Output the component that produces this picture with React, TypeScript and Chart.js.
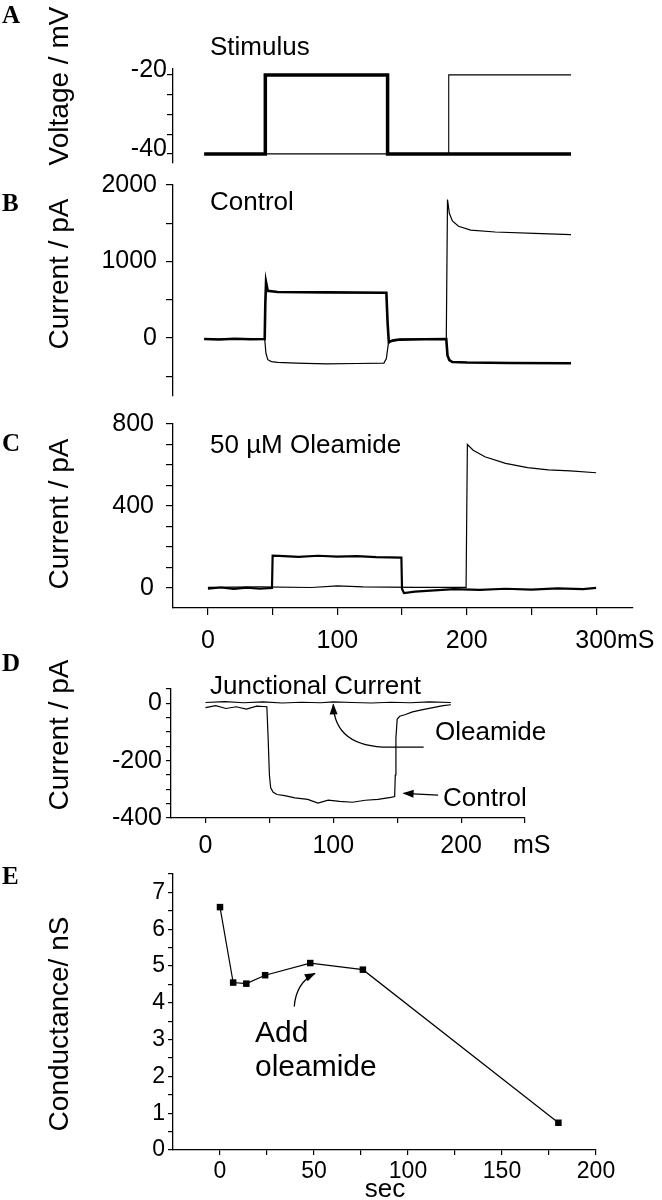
import React, { useEffect, useRef } from 'react';
import { Chart, registerables } from 'chart.js';

Chart.register(...registerables);

const FONT = "'Liberation Sans', Arial, Helvetica, sans-serif";
const SERIF = "'Liberation Serif', 'Times New Roman', serif";

// ---------- Panel A: stimulus ----------
const aTimeThin = [0, 200, 200, 300];
const aVoltThin = [-40, -40, -20, -20];
const aTimeThick = [0, 50, 50, 150, 150, 300];
const aVoltThick = [-40, -40, -20, -20, -40, -40];
const aVoltTicks = [-40, -35, -30, -25, -20];
const aVoltLabels = [-40, -20];

// ---------- Panel B: control currents ----------
const bTimeCell1 = [0, 12, 25, 38, 49.5, 50, 50.6, 52, 60, 100, 149, 150, 151, 153, 160, 180, 198, 199, 200.5, 203, 215, 250, 300];
const bCurCell1 = [-15, -20, -12, -18, -15, 450, 730, 615, 600, 595, 590, 200, -55, -40, -22, -18, -15, -230, -290, -315, -322, -328, -332];
const bTimeCell2 = [0, 49.5, 50.5, 52, 55, 60, 75, 100, 125, 147, 149, 150.5, 152, 156, 180, 198, 199, 200.5, 203, 208, 218, 238, 270, 300];
const bCurCell2 = [-15, -15, -200, -285, -310, -320, -330, -340, -335, -330, -270, -90, -40, -20, -15, -15, 1810, 1630, 1530, 1460, 1410, 1385, 1368, 1350];
const bCurTicks = [-500, 0, 500, 1000, 1500, 2000];
const bCurLabels = [0, 1000, 2000];

// ---------- Panel C: 50 uM oleamide ----------
const cTimeCell1 = [0, 10, 20, 30, 40, 49.5, 50, 55, 70, 85, 100, 115, 130, 149.5, 150, 151.5, 160, 175, 190, 210, 230, 250, 270, 290, 300];
const cCurCell1 = [-3, 2, -5, 1, -4, 0, 158, 156, 152, 157, 153, 155, 150, 148, -5, -25, -18, -12, -6, -10, -4, -8, -2, -6, 0];
const cTimeCell2 = [0, 40, 80, 100, 120, 160, 199.5, 200.5, 205, 214, 230, 247, 263, 280, 300];
const cCurCell2 = [3, 5, 2, 10, 5, 3, 3, 700, 672, 640, 608, 587, 576, 571, 562];
const cCurTicks = [0, 100, 200, 300, 400, 500, 600, 700, 800];
const cCurLabels = [0, 400, 800];
const cTimeTicks = [0, 50, 100, 150, 200, 250, 300];
const cTimeLabels = [0, 100, 200, 300];

// ---------- Panel D: junctional current ----------
const dTimeOle = [0, 15, 30, 45, 60, 75, 90, 100, 115, 130, 145, 160, 175, 192];
const dCurOle = [3, 6, 2, 5, 1, 4, 2, 5, 3, 1, 4, 2, 5, 3];
const dTimeCtl = [0, 8, 16, 24, 32, 40, 48, 49, 50, 51, 53, 56, 62, 70, 80, 88, 96, 105, 115, 125, 135, 145, 148, 148.5, 149, 150, 152, 156, 162, 170, 178, 186, 192];
const dCurCtl = [-15, -8, -18, -12, -20, -10, -12, -120, -250, -295, -310, -318, -322, -330, -335, -348, -338, -342, -345, -338, -335, -328, -325, -250, -120, -55, -45, -40, -30, -22, -15, -8, -5];
const dCurTicks = [-400, -350, -300, -250, -200, -150, -100, -50, 0, 50];
const dCurLabels = [-400, -200, 0];
const dTimeTicks = [0, 50, 100, 150, 200, 250];
const dTimeLabels = [0, 100, 200];

// ---------- Panel E: conductance ----------
const eTime = [0, 7, 14, 24, 48, 76, 180];
const eCond = [6.6, 4.55, 4.52, 4.75, 5.08, 4.9, 0.74];
const eCondTicks = [0, 0.5, 1, 1.5, 2, 2.5, 3, 3.5, 4, 4.5, 5, 5.5, 6, 6.5, 7, 7.5];
const eCondLabels = [0, 1, 2, 3, 4, 5, 6, 7];
const eTimeTicks = [0, 25, 50, 75, 100, 125, 150, 175, 200];
const eTimeLabels = [0, 50, 100, 150, 200];

// annotation arrows, in data coordinates of their panel
const dArrowOleamide = [[170.7, -153], [144, -153], [101, -153], [100, -4]];
const dArrowControl = [[182, -320], [155, -314]];
const eArrowAdd = [[39.5, 3.9], [39.5, 3.9], [40.5, 4.55], [50.5, 4.8]];

type TextItem = {
  text: string; x: number; y: number; size: number;
  align?: CanvasTextAlign; baseline?: CanvasTextBaseline;
  rotate?: boolean; serif?: boolean; bold?: boolean;
  anchorX?: number; anchorText?: string; anchorSize?: number;
};
type ArrowItem = { pts: number[][]; curve?: boolean };

const pts = (xs: number[], ys: number[]) => xs.map((x, i) => ({ x, y: ys[i] }));

const line = (xs: number[], ys: number[], w: number) => ({
  data: pts(xs, ys),
  borderColor: '#000',
  borderWidth: w,
  pointRadius: 0,
  tension: 0,
  fill: false,
  clip: false,
  borderJoinStyle: 'miter',
  borderCapStyle: 'butt',
});

function yAxis(min: number, max: number, ticks: number[], labels: number[], width: number, tl: number, pad: number, labelOffset = 0, size = 25) {
  return {
    type: 'linear', position: 'left', min, max,
    afterBuildTicks: (s: any) => { s.ticks = ticks.map((v) => ({ value: v })); },
    afterFit: (s: any) => { s.width = width; },
    ticks: {
      autoSkip: false, padding: pad, labelOffset, color: '#000',
      font: { family: FONT, size },
      callback: (v: any) => (labels.includes(Number(v)) ? String(v) : ''),
    },
    grid: { display: true, drawOnChartArea: false, drawTicks: true, tickLength: tl, color: '#000', lineWidth: 1.2 },
    border: { display: true, color: '#000', width: 1.3 },
  };
}

function xAxis(min: number, max: number, ticks: number[], labels: number[], height: number, tl: number, pad: number, size = 25) {
  return {
    type: 'linear', position: 'bottom', min, max,
    afterBuildTicks: (s: any) => { s.ticks = ticks.map((v) => ({ value: v })); },
    afterFit: (s: any) => { s.height = height; },
    ticks: {
      autoSkip: false, padding: pad, maxRotation: 0, color: '#000',
      font: { family: FONT, size },
      callback: (v: any) => (labels.includes(Number(v)) ? String(v) : ''),
    },
    grid: { display: true, drawOnChartArea: false, drawTicks: true, tickLength: tl, color: '#000', lineWidth: 1.2 },
    border: { display: true, color: '#000', width: 1.3 },
  };
}

function annotate(top: number, texts: TextItem[], arrows: ArrowItem[]) {
  return {
    id: 'annotate',
    afterDraw(chart: any) {
      const ctx = chart.ctx as CanvasRenderingContext2D;
      const xs = chart.scales.x;
      const ys = chart.scales.y;
      ctx.save();
      ctx.fillStyle = '#000';
      ctx.strokeStyle = '#000';
      for (const t of texts) {
        let x = t.x;
        if (t.anchorX !== undefined) {
          ctx.font = `${t.anchorSize || 25}px ${FONT}`;
          x = xs.getPixelForValue(t.anchorX) + ctx.measureText(t.anchorText || '').width / 2 + t.x;
        }
        ctx.font = `${t.bold ? 'bold ' : ''}${t.size}px ${t.serif ? SERIF : FONT}`;
        ctx.textAlign = t.align || 'left';
        ctx.textBaseline = t.baseline || 'alphabetic';
        const y = t.y - top;
        if (t.rotate) {
          ctx.save();
          ctx.translate(x, y);
          ctx.rotate(-Math.PI / 2);
          ctx.fillText(t.text, 0, 0);
          ctx.restore();
        } else {
          ctx.fillText(t.text, x, y);
        }
      }
      for (const a of arrows) {
        const p = a.pts.map(([vx, vy]) => [xs.getPixelForValue(vx), ys.getPixelForValue(vy)]);
        ctx.lineWidth = 1.3;
        ctx.beginPath();
        ctx.moveTo(p[0][0], p[0][1]);
        let from: number[];
        let to: number[];
        if (a.curve) {
          ctx.lineTo(p[1][0], p[1][1]);
          ctx.quadraticCurveTo(p[2][0], p[2][1], p[3][0], p[3][1]);
          from = p[2];
          to = p[3];
        } else {
          ctx.lineTo(p[1][0], p[1][1]);
          from = p[0];
          to = p[1];
        }
        ctx.stroke();
        const ang = Math.atan2(to[1] - from[1], to[0] - from[0]);
        const L = 10;
        const W = 4;
        const c = Math.cos(ang);
        const s = Math.sin(ang);
        ctx.beginPath();
        ctx.moveTo(to[0] + 1 * c, to[1] + 1 * s);
        ctx.lineTo(to[0] - L * c + W * s, to[1] - L * s - W * c);
        ctx.lineTo(to[0] - L * c - W * s, to[1] - L * s + W * c);
        ctx.closePath();
        ctx.fill();
      }
      ctx.restore();
    },
  };
}

const baseOptions = (padding: any) => ({
  animation: false,
  responsive: false,
  devicePixelRatio: 1,
  layout: { padding },
  plugins: { legend: { display: false }, tooltip: { enabled: false } },
});

const LETTER = 25;

const PANELS: { top: number; height: number; make: () => any }[] = [
  {
    top: 0, height: 200,
    make: () => ({
      type: 'line',
      data: { datasets: [line(aTimeThin, aVoltThin, 1.1), line(aTimeThick, aVoltThick, 3.5)] },
      options: {
        ...baseOptions({ top: 69, bottom: 37, left: 0, right: 91 }),
        scales: {
          x: { type: 'linear', min: -25.5, max: 300, display: false },
          y: yAxis(-42.3, -18.5, aVoltTicks, aVoltLabels, 173, 6, 0, -5),
        },
      },
      plugins: [annotate(0, [
        { text: 'A', x: 2, y: 23, size: LETTER, serif: true, bold: true },
        { text: 'Stimulus', x: 210, y: 55, size: 26 },
        { text: 'Voltage / mV', x: 68, y: 86, size: 28, rotate: true, align: 'center' },
      ], [])],
    }),
  },
  {
    top: 155, height: 270,
    make: () => ({
      type: 'line',
      data: { datasets: [line(bTimeCell2, bCurCell2, 1.2), line(bTimeCell1, bCurCell1, 2.6)] },
      options: {
        ...baseOptions({ top: 30, bottom: 29, left: 0, right: 91 }),
        scales: {
          x: { type: 'linear', min: -25.5, max: 300, display: false },
          y: yAxis(-760, 2000, bCurTicks, bCurLabels, 173, 7, 9),
        },
      },
      plugins: [annotate(155, [
        { text: 'B', x: 2, y: 211, size: LETTER, serif: true, bold: true },
        { text: 'Control', x: 210, y: 210, size: 26 },
        { text: 'Current / pA', x: 68, y: 274, size: 28, rotate: true, align: 'center' },
      ], [])],
    }),
  },
  {
    top: 395, height: 275,
    make: () => ({
      type: 'line',
      data: { datasets: [line(cTimeCell2, cCurCell2, 1.2), line(cTimeCell1, cCurCell1, 2.2)] },
      options: {
        ...baseOptions({ top: 29, bottom: 0, left: 0, right: 29 }),
        scales: {
          x: xAxis(-27, 328.5, cTimeTicks, cTimeLabels, 62, 7, 11),
          y: yAxis(-98, 800, cCurTicks, cCurLabels, 173, 7, 12),
        },
      },
      plugins: [annotate(395, [
        { text: 'C', x: 2, y: 451, size: LETTER, serif: true, bold: true },
        { text: '50 \u00b5M Oleamide', x: 210, y: 453, size: 26 },
        { text: 'Current / pA', x: 68, y: 514, size: 28, rotate: true, align: 'center' },
        { text: 'mS', x: 0, y: 641, size: 25, baseline: 'middle', anchorX: 300, anchorText: '300', anchorSize: 25 },
      ], [])],
    }),
  },
  {
    top: 645, height: 230,
    make: () => ({
      type: 'line',
      data: { datasets: [line(dTimeOle, dCurOle, 1.1), line(dTimeCtl, dCurCtl, 1.2)] },
      options: {
        ...baseOptions({ top: 44, bottom: 0, left: 0, right: 137 }),
        scales: {
          x: xAxis(-27, 250, dTimeTicks, dTimeLabels, 57, 5, 8),
          y: yAxis(-400, 50, dCurTicks, dCurLabels, 171, 5, 4),
        },
      },
      plugins: [annotate(645, [
        { text: 'D', x: 2, y: 671, size: LETTER, serif: true, bold: true },
        { text: 'Junctional Current', x: 210, y: 694, size: 26 },
        { text: 'Current / pA', x: 68, y: 735, size: 28, rotate: true, align: 'center' },
        { text: 'Oleamide', x: 435, y: 740, size: 26 },
        { text: 'Control', x: 443, y: 806, size: 26 },
        { text: 'mS', x: 513, y: 846, size: 25, baseline: 'middle' },
      ], [
        { pts: dArrowOleamide, curve: true },
        { pts: dArrowControl },
      ])],
    }),
  },
  {
    top: 845, height: 355,
    make: () => ({
      type: 'line',
      data: {
        datasets: [{
          ...line(eTime, eCond, 1.2),
          pointRadius: 4.6,
          pointStyle: 'rect',
          pointBackgroundColor: '#000',
          pointBorderColor: '#000',
          pointBorderWidth: 0,
        }],
      },
      options: {
        ...baseOptions({ top: 29, bottom: 0, left: 0, right: 66 }),
        scales: {
          x: xAxis(-25, 200, eTimeTicks, eTimeLabels, 50, 5, 3, 23),
          y: yAxis(0, 7.5, eCondTicks, eCondLabels, 173, 5, 3, 0, 23),
        },
      },
      plugins: [annotate(845, [
        { text: 'E', x: 2, y: 884, size: LETTER, serif: true, bold: true },
        { text: 'Conductance/ nS', x: 68, y: 1024, size: 28, rotate: true, align: 'center' },
        { text: 'Add', x: 255, y: 1042, size: 30 },
        { text: 'oleamide', x: 255, y: 1076, size: 30 },
        { text: 'sec', x: 385, y: 1197, size: 26, align: 'center' },
      ], [{ pts: eArrowAdd, curve: true }])],
    }),
  },
];

function Panel({ top, height, make }: { top: number; height: number; make: () => any }) {
  const ref = useRef<HTMLCanvasElement>(null);
  useEffect(() => {
    if (!ref.current) return;
    const chart = new Chart(ref.current, make());
    return () => chart.destroy();
  }, [make]);
  return (
    <div style={{ position: 'absolute', left: 0, top, width: 662, height }}>
      <canvas ref={ref} width={662} height={height} style={{ display: 'block', width: 662, height }} />
    </div>
  );
}

export default function App() {
  return (
    <div style={{ position: 'absolute', left: 0, top: 0, width: 662, height: 1200, background: '#fff' }}>
      {PANELS.map((p, i) => (
        <Panel key={i} top={p.top} height={p.height} make={p.make} />
      ))}
    </div>
  );
}
